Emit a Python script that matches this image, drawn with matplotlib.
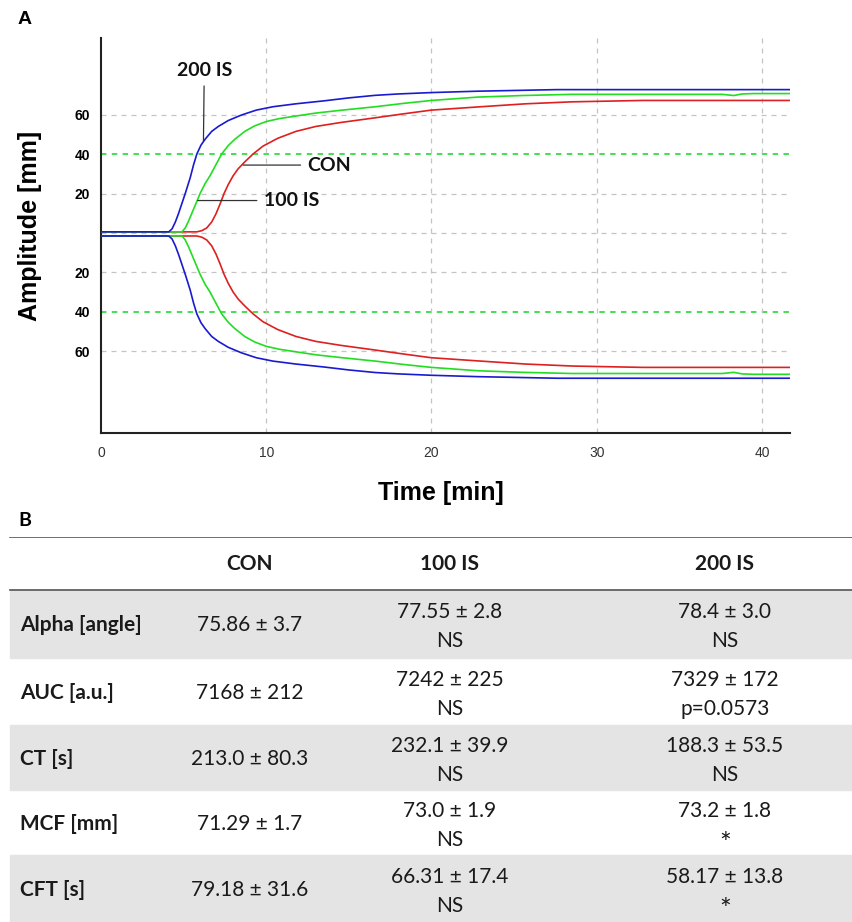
import matplotlib.pyplot as plt
from matplotlib.patches import Rectangle

# ---- panel A: ROTEM traces (amplitude in mm vs time in min) ----
time_con = [0, 5.8, 6.1, 6.4, 6.7, 6.95, 7.2, 7.45, 7.7, 8.0, 8.3, 8.7, 9.2, 9.8, 10.7, 11.8, 13.0, 14.5,
            16.6, 18.3, 20.0, 22.8, 25.7, 28.5, 32.8, 41.7]
amp_con = [0, 0, 0.6, 2.0, 5.0, 9.0, 14.0, 19.5, 24.0, 28.5, 32.0, 35.5, 39.5, 43.5, 47.5, 51.0, 53.5, 55.5,
           57.9, 59.9, 61.8, 63.4, 65.0, 66.0, 66.7, 66.7]

time_100 = [0, 4.9, 5.1, 5.3, 5.5, 5.75, 6.0, 6.3, 6.6, 6.95, 7.3, 7.7, 8.1, 8.7, 9.3, 10.0, 10.8, 11.8, 13.0,
            14.5, 16.6, 18.3, 20.0, 22.8, 25.5, 28.5, 37.6, 38.3, 38.8, 39.5, 41.7]
amp_100 = [0, 0, 2.0, 5.5, 9.5, 14.5, 19.5, 24.5, 28.5, 34.0, 39.5, 43.8, 47.0, 51.0, 53.8, 56.0, 57.5, 58.8, 60.3,
           61.7, 63.5, 65.2, 66.7, 68.4, 69.2, 69.8, 69.8, 69.2, 70.0, 70.2, 70.2]

time_200 = [0, 4.1, 4.3, 4.5, 4.7, 4.9, 5.1, 5.4, 5.6, 5.8, 6.05, 6.3, 6.7, 7.1, 7.7, 8.5, 9.4, 10.4, 11.8,
            13.5, 15.0, 16.6, 18.0, 20.0, 22.8, 27.6, 41.7]
amp_200 = [0, 0, 1.5, 5.0, 9.5, 14.5, 19.5, 27.5, 34.0, 39.5, 44.0, 47.0, 51.0, 53.5, 56.5, 59.3, 61.8, 63.5, 65.0,
           66.5, 68.0, 69.3, 70.0, 70.7, 71.4, 72.2, 72.2]

series = [(time_con, amp_con, '#dd2020'), (time_100, amp_100, '#22dd22'), (time_200, amp_200, '#1a1ad0')]
ytick_vals = [60, 40, 20, -20, -40, -60]
ytick_labels = ['60', '40', '20', '20', '40', '60']
xtick_vals = [0, 10, 20, 30, 40]

# ---- panel B: table ----
params = ['Alpha [angle]', 'AUC [a.u.]', 'CT [s]', 'MCF [mm]', 'CFT [s]']
groups = ['CON', '100 IS', '200 IS']
con_vals = ['75.86 ± 3.7', '7168 ± 212', '213.0 ± 80.3', '71.29 ± 1.7', '79.18 ± 31.6']
is100_vals = ['77.55 ± 2.8', '7242 ± 225', '232.1 ± 39.9', '73.0 ± 1.9', '66.31 ± 17.4']
is100_sig = ['NS', 'NS', 'NS', 'NS', 'NS']
is200_vals = ['78.4 ± 3.0', '7329 ± 172', '188.3 ± 53.5', '73.2 ± 1.8', '58.17 ± 13.8']
is200_sig = ['NS', 'p=0.0573', 'NS', '*', '*']

W, H = 853, 922
fig = plt.figure(figsize=(W / 100, H / 100), dpi=100)

ax = fig.add_axes([101 / W, 1 - 433 / H, 689 / W, 395 / H])
ax.set_xlim(0.18, 41.7)
ax.set_ylim(-101.5, 99.0)

grid_kw = dict(color='#c4c4c4', lw=0.9, ls=(0, (4, 4)), zorder=1)
for v in [60, 20, 0, -20, -60]:
    ax.axhline(v, **grid_kw)
for v in [40, -40]:
    ax.axhline(v, color='#33dd44', lw=1.3, ls=(0, (3, 3)), zorder=1)
for v in xtick_vals[1:]:
    ax.axvline(v, **grid_kw)

for t, a, c in series:
    up = [x + 0.6 for x in a]
    lo = [-(x + 1.5) for x in a]
    ax.plot(t, up, color=c, lw=1.2, zorder=3)
    ax.plot(t, lo, color=c, lw=1.2, zorder=3)

ann = dict(fontsize=14, fontweight='bold', family='Lato', color='#111111')
lp = dict(arrowstyle='-', color='#333333', lw=0.9, shrinkA=3, shrinkB=0)
ax.annotate('200 IS', xy=(6.2, 46.5), xytext=(6.25, 82.5), ha='center', va='center', arrowprops=lp, **ann)
ax.annotate('CON', xy=(8.6, 34.5), xytext=(12.5, 34.5), ha='left', va='center', arrowprops=lp, **ann)
ax.annotate('100 IS', xy=(5.85, 16.5), xytext=(9.85, 16.5), ha='left', va='center', arrowprops=lp, **ann)

ax.set_yticks(ytick_vals)
ax.set_yticklabels(ytick_labels, fontsize=10, fontweight='bold', family='Liberation Sans')
ax.set_xticks(xtick_vals)
ax.set_xticklabels([str(v) for v in xtick_vals], fontsize=10, family='Liberation Sans', color='#333333')
ax.tick_params(axis='y', length=0, pad=8)
ax.tick_params(axis='x', length=0, pad=9)
for s in ['top', 'right']:
    ax.spines[s].set_visible(False)
for s in ['left', 'bottom']:
    ax.spines[s].set_linewidth(1.5)
    ax.spines[s].set_color('#222222')

ax.set_xlabel('Time [min]', fontsize=18, fontweight='bold', family='Liberation Sans')
ax.xaxis.set_label_coords((441 - 101) / 689, (433 - 493) / 395)
ax.xaxis.label.set_va('center')
ax.set_ylabel('Amplitude [mm]', fontsize=18, fontweight='bold', family='Liberation Sans')
ax.yaxis.set_label_coords((30 - 101) / 689, (433 - 226) / 395)
ax.yaxis.label.set_va('center')

fig.text(18 / W, 1 - 20 / H, 'A', fontsize=14, fontweight='bold', family='Liberation Sans', va='center')
fig.text(18 / W, 1 - 521 / H, 'B', fontsize=14, fontweight='bold', family='Lato', va='center')

# table drawn in pixel-like coordinates
tab = fig.add_axes([0, 0, 1, 385 / H])
tab.set_xlim(0, W)
tab.set_ylim(385, 0)
tab.axis('off')

edges = [0, 53, 121, 188, 253, 318, 385]
col_x = [250, 450, 725]
txt = dict(family='Lato', fontsize=15, color='#1a1a1a', ha='center', va='center')


def cell(x, y, s):
    # Lato draws '*' high and small; enlarge and drop it to match the reference
    if s == '*':
        tab.text(x, y + 5, s, family='Lato', fontsize=20, color='#1a1a1a', ha='center', va='center')
    else:
        tab.text(x, y, s, **txt)


for i in range(len(params)):
    top, bot = edges[i + 1], edges[i + 2]
    if i % 2 == 0:
        tab.add_patch(Rectangle((10, top), W - 10, bot - top, color='#e4e4e4', zorder=0))
tab.axhline(0, xmin=10 / W, color='#555555', lw=1.2)
tab.axhline(edges[1], xmin=10 / W, color='#555555', lw=1.2)

for g, x in zip(groups, col_x):
    tab.text(x, edges[1] / 2 + 1, g, fontweight='bold', **txt)

for i, p in enumerate(params):
    top, bot = edges[i + 1], edges[i + 2]
    mid = (top + bot) / 2
    tab.text(20, mid + 1, p, family='Lato', fontsize=15, fontweight='bold', color='#1a1a1a', ha='left', va='center')
    cell(col_x[0], mid + 1, con_vals[i])
    cell(col_x[1], mid - 12, is100_vals[i])
    cell(col_x[1], mid + 17, is100_sig[i])
    cell(col_x[2], mid - 12, is200_vals[i])
    cell(col_x[2], mid + 17, is200_sig[i])

fig.savefig('out.png', dpi=100)
